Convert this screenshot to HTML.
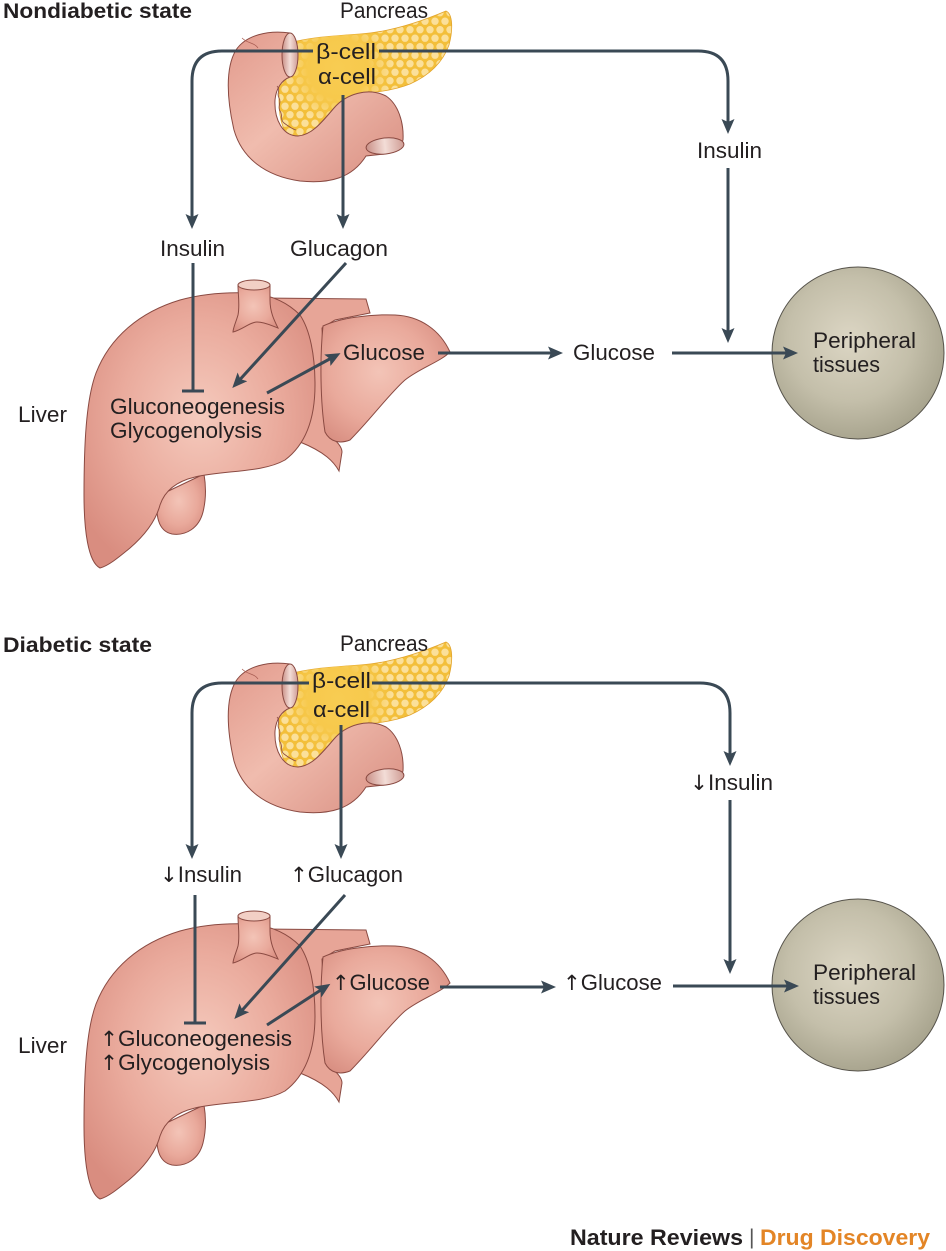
<!DOCTYPE html>
<html>
<head>
<meta charset="utf-8">
<style>
  html,body{margin:0;padding:0;background:#fff;}
  svg{display:block;}
  text{font-family:"Liberation Sans","DejaVu Sans",sans-serif;fill:#231f20;font-size:22px;}
  .b{font-weight:bold;}
  .ar{font-family:"DejaVu Sans",sans-serif;font-size:21px;}
</style>
</head>
<body>
<svg width="946" height="1251" viewBox="0 0 946 1251" xmlns="http://www.w3.org/2000/svg">
  <defs>
    <radialGradient id="lvg" cx="0.5" cy="0.45" r="0.62">
      <stop offset="0" stop-color="#f5cabd"/>
      <stop offset="0.55" stop-color="#eaab9d"/>
      <stop offset="1" stop-color="#d98d80"/>
    </radialGradient>
    <radialGradient id="slg" cx="0.45" cy="0.45" r="0.65">
      <stop offset="0" stop-color="#f3c4b7"/>
      <stop offset="0.6" stop-color="#e9a99b"/>
      <stop offset="1" stop-color="#d88e81"/>
    </radialGradient>
    <linearGradient id="dg" x1="0" y1="0" x2="1" y2="1">
      <stop offset="0" stop-color="#e29a8c"/>
      <stop offset="0.45" stop-color="#f0bcae"/>
      <stop offset="1" stop-color="#d88d80"/>
    </linearGradient>
    <linearGradient id="og" x1="0" y1="0" x2="1" y2="0">
      <stop offset="0" stop-color="#c98f86"/>
      <stop offset="0.5" stop-color="#f3ddd7"/>
      <stop offset="1" stop-color="#cf9c94"/>
    </linearGradient>
    <radialGradient id="cg" cx="0.45" cy="0.42" r="0.6">
      <stop offset="0" stop-color="#dcd6c4"/>
      <stop offset="0.6" stop-color="#c4bfaa"/>
      <stop offset="1" stop-color="#a7a38d"/>
    </radialGradient>
    <pattern id="bub" width="10" height="17" patternUnits="userSpaceOnUse">
      <rect width="10" height="17" fill="#f3bf3a"/>
      <circle cx="5" cy="4.2" r="3.7" fill="#fbe09a"/>
      <circle cx="0" cy="12.7" r="3.7" fill="#fbe09a"/>
      <circle cx="10" cy="12.7" r="3.7" fill="#fbe09a"/>
    </pattern>
    <radialGradient id="yglow" gradientUnits="userSpaceOnUse" cx="338" cy="68" r="55">
      <stop offset="0" stop-color="#f8cc52" stop-opacity="1"/>
      <stop offset="0.55" stop-color="#f7c94c" stop-opacity="1"/>
      <stop offset="1" stop-color="#f7c94c" stop-opacity="0"/>
    </radialGradient>

    <g id="pancreas">
      <path d="M281,46 C300,38 330,36 360,34 C390,32 420,22 446,11 C453,14 453,30 449,45 C443,62 430,75 410,84 C395,90 380,92 365,93 L340,106 C326,122 312,140 296,141 C284,138 279,120 279,100 L279,60 Z" fill="url(#bub)" stroke="#e2a42c" stroke-width="0.8"/>
      <path d="M281,46 C300,38 330,36 360,34 C390,32 420,22 446,11 C453,14 453,30 449,45 C443,62 430,75 410,84 C395,90 380,92 365,93 L340,106 C326,122 312,140 296,141 C284,138 279,120 279,100 L279,60 Z" fill="url(#yglow)"/>
      <path d="M290,33 C268,30 246,35 236,50 C225,68 227,100 234,130 C242,158 265,176 300,181 C330,184 352,178 366,156 L384,154 C392,152 400,148 403,140 C404,122 398,104 386,96 C368,87 346,94 334,108 C322,122 312,135 298,136 C283,136 274,120 275,100 C276,88 282,80 290,77 Z" fill="url(#dg)" stroke="#8a4a42" stroke-width="1"/>
      <path d="M277,86 c4,4 -1,8 2,12 c3,4 -2,9 1,13 c3,4 0,9 4,12 c4,3 8,6 12,7" fill="none" stroke="#8a4a42" stroke-width="0.8"/>
      <path d="M242,38 c6,6 12,4 16,10" fill="none" stroke="#a85c52" stroke-width="0.7"/>
      <ellipse cx="290" cy="55" rx="8" ry="22" fill="url(#og)" stroke="#8a4a42" stroke-width="1"/>
      <ellipse cx="385" cy="146" rx="19" ry="8" transform="rotate(-6 385 146)" fill="url(#og)" stroke="#8a4a42" stroke-width="1"/>
    </g>

    <g id="liver">
      <path d="M262,298 L366,299 L370,313 L335,320 L322,328 L327,432 C335,440 342,446 342,452 L339,471 C334,462 325,452 300,442 Z" fill="#e7a597" stroke="#8a4a42" stroke-width="1"/>
      <path d="M158,496 C155,515 158,531 172,534 C186,536 199,528 203,512 C206,500 206,486 204,474 Z" fill="url(#slg)" stroke="#8a4a42" stroke-width="1"/>
      <path d="M100,568 C88,562 84,530 84,495 C84,445 86,400 96,373 C110,337 140,312 180,300 C205,293 228,292 250,293 C275,295 290,305 300,315 C310,330 315,355 315,385 C315,420 305,445 285,460 C262,473 225,470 195,477 C178,481 165,490 160,505 C156,520 145,535 130,548 C118,558 108,566 100,568 Z" fill="url(#lvg)" stroke="#8a4a42" stroke-width="1"/>
      <path d="M323,326 C340,318 370,314 395,315 C420,316 440,330 450,352 C440,362 420,368 405,380 C390,393 370,420 350,440 C340,444 330,442 325,432 C320,400 320,355 323,326 Z" fill="url(#slg)" stroke="#8a4a42" stroke-width="1"/>
      <path d="M238,285 C238,295 240,305 238,315 C236,322 233,328 233,332 C242,330 250,322 257,322 C265,322 272,326 278,328 C274,320 270,312 270,300 L270,285 Z" fill="url(#slg)" stroke="#8a4a42" stroke-width="1"/>
      <ellipse cx="254" cy="285" rx="16" ry="5" fill="#f2cfc5" stroke="#8a4a42" stroke-width="1"/>
    </g>

    <marker id="ah" markerWidth="15" markerHeight="13" refX="11" refY="6.5" orient="auto" markerUnits="userSpaceOnUse">
      <path d="M0,0 L15,6.5 L0,13 L3,6.5 Z" fill="#3a4955"/>
    </marker>
  </defs>

  <rect width="946" height="1251" fill="#fff"/>

  <use href="#pancreas"/>
  <use href="#pancreas" transform="translate(0,631)"/>
  <use href="#liver"/>
  <use href="#liver" transform="translate(0,631)"/>

  <circle cx="858" cy="353" r="86" fill="url(#cg)" stroke="#55524a" stroke-width="1"/>
  <circle cx="858" cy="985" r="86" fill="url(#cg)" stroke="#55524a" stroke-width="1"/>

  <g fill="none" stroke="#3a4955" stroke-width="3">
    <path d="M313,51 H222 Q192,51 192,81 V225" marker-end="url(#ah)"/>
    <path d="M379,51 H698 Q728,51 728,81 V130" marker-end="url(#ah)"/>
    <path d="M343,95 V225" marker-end="url(#ah)"/>
    <path d="M728,168 V339" marker-end="url(#ah)"/>
    <path d="M193,263 V391 M182,391 H204"/>
    <path d="M346,263 L235,385" marker-end="url(#ah)"/>
    <path d="M267,393 L337,355" marker-end="url(#ah)"/>
    <path d="M438,353 H559" marker-end="url(#ah)"/>
    <path d="M672,353 H794" marker-end="url(#ah)"/>
  </g>
  <g fill="none" stroke="#3a4955" stroke-width="3">
    <path d="M309,683 H222 Q192,683 192,713 V855" marker-end="url(#ah)"/>
    <path d="M372,683 H700 Q730,683 730,713 V762" marker-end="url(#ah)"/>
    <path d="M341,725 V855" marker-end="url(#ah)"/>
    <path d="M730,800 V970" marker-end="url(#ah)"/>
    <path d="M195,895 V1023 M184,1023 H206"/>
    <path d="M345,895 L237,1016" marker-end="url(#ah)"/>
    <path d="M267,1025 L327,986" marker-end="url(#ah)"/>
    <path d="M440,987 H552" marker-end="url(#ah)"/>
    <path d="M673,986 H795" marker-end="url(#ah)"/>
  </g>

  <text class="b" x="3" y="18" textLength="189" lengthAdjust="spacingAndGlyphs" style="font-size:21px">Nondiabetic state</text>
  <text x="340" y="18" textLength="88" lengthAdjust="spacingAndGlyphs">Pancreas</text>
  <text x="316" y="59" textLength="60" lengthAdjust="spacingAndGlyphs">β-cell</text>
  <text x="318" y="84" textLength="58" lengthAdjust="spacingAndGlyphs">α-cell</text>
  <text x="697" y="158" textLength="65" lengthAdjust="spacingAndGlyphs">Insulin</text>
  <text x="160" y="256" textLength="65" lengthAdjust="spacingAndGlyphs">Insulin</text>
  <text x="290" y="256" textLength="98" lengthAdjust="spacingAndGlyphs">Glucagon</text>
  <text x="343" y="360" textLength="82" lengthAdjust="spacingAndGlyphs">Glucose</text>
  <text x="110" y="414" textLength="175" lengthAdjust="spacingAndGlyphs">Gluconeogenesis</text>
  <text x="110" y="438" textLength="152" lengthAdjust="spacingAndGlyphs">Glycogenolysis</text>
  <text x="18" y="422" textLength="49" lengthAdjust="spacingAndGlyphs">Liver</text>
  <text x="573" y="360" textLength="82" lengthAdjust="spacingAndGlyphs">Glucose</text>
  <text x="813" y="348" textLength="103" lengthAdjust="spacingAndGlyphs">Peripheral</text>
  <text x="813" y="372" textLength="67" lengthAdjust="spacingAndGlyphs">tissues</text>

  <text class="b" x="3" y="652" textLength="149" lengthAdjust="spacingAndGlyphs" style="font-size:21px">Diabetic state</text>
  <text x="340" y="651" textLength="88" lengthAdjust="spacingAndGlyphs">Pancreas</text>
  <text x="312" y="688" textLength="59" lengthAdjust="spacingAndGlyphs">β-cell</text>
  <text x="313" y="717" textLength="57" lengthAdjust="spacingAndGlyphs">α-cell</text>
  <text x="690" y="790" textLength="83" lengthAdjust="spacingAndGlyphs"><tspan class="ar">↓</tspan>Insulin</text>
  <text x="160" y="882" textLength="82" lengthAdjust="spacingAndGlyphs"><tspan class="ar">↓</tspan>Insulin</text>
  <text x="290" y="882" textLength="113" lengthAdjust="spacingAndGlyphs"><tspan class="ar">↑</tspan>Glucagon</text>
  <text x="332" y="990" textLength="98" lengthAdjust="spacingAndGlyphs"><tspan class="ar">↑</tspan>Glucose</text>
  <text x="100" y="1046" textLength="192" lengthAdjust="spacingAndGlyphs"><tspan class="ar">↑</tspan>Gluconeogenesis</text>
  <text x="100" y="1070" textLength="170" lengthAdjust="spacingAndGlyphs"><tspan class="ar">↑</tspan>Glycogenolysis</text>
  <text x="18" y="1053" textLength="49" lengthAdjust="spacingAndGlyphs">Liver</text>
  <text x="563" y="990" textLength="99" lengthAdjust="spacingAndGlyphs"><tspan class="ar">↑</tspan>Glucose</text>
  <text x="813" y="980" textLength="103" lengthAdjust="spacingAndGlyphs">Peripheral</text>
  <text x="813" y="1004" textLength="67" lengthAdjust="spacingAndGlyphs">tissues</text>

  <text class="b" x="570" y="1245" textLength="173" lengthAdjust="spacingAndGlyphs">Nature Reviews</text>
  <text x="749" y="1244" style="fill:#555;font-size:21px">|</text>
  <text class="b" x="760" y="1245" textLength="170" lengthAdjust="spacingAndGlyphs" style="fill:#e38526">Drug Discovery</text>
</svg>
</body>
</html>
